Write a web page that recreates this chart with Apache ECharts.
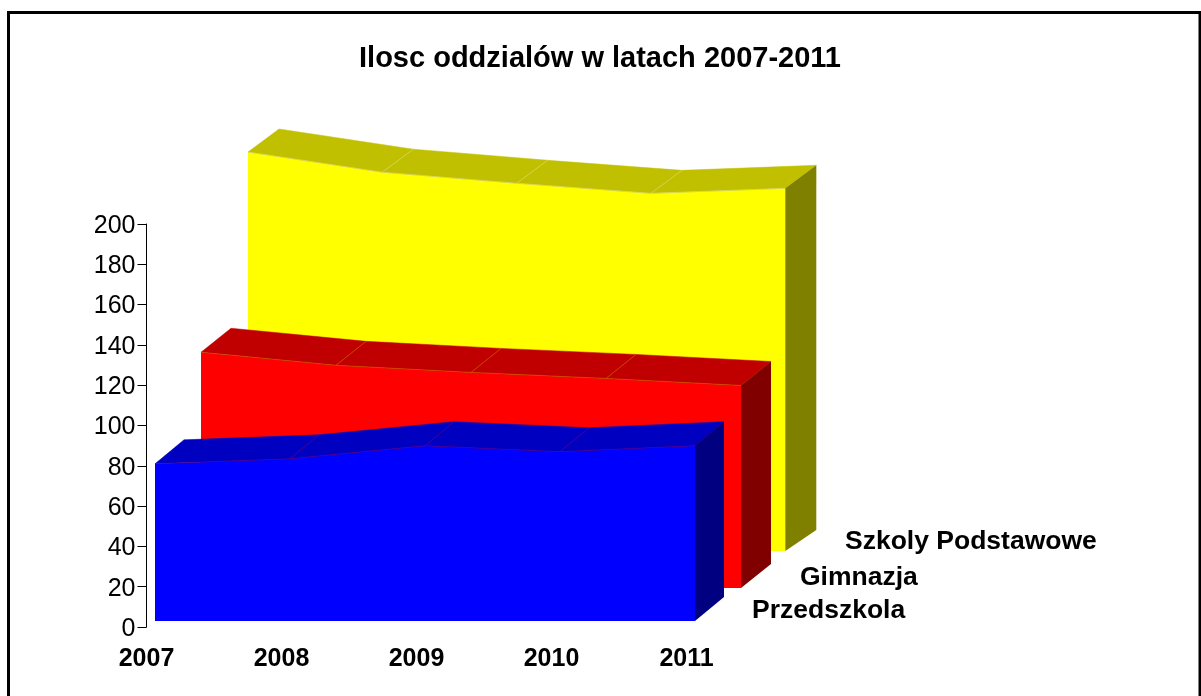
<!DOCTYPE html>
<html>
<head>
<meta charset="utf-8">
<style>
html, body { margin: 0; padding: 0; background: #fff; }
#chart { width: 1201px; height: 696px; }
</style>
<script src="https://cdn.jsdelivr.net/npm/echarts@6/dist/echarts.min.js"></script>
</head>
<body>
<div id="chart"></div>
<script>
var years = ['2007', '2008', '2009', '2010', '2011'];
var podstawowe = [198, 188, 182.5, 177.5, 180];
var gimnazja = [117, 110.5, 107, 104, 100.5];
var przedszkola = [78, 80.5, 87, 84, 87];

var FONT = '"Liberation Sans", Arial, sans-serif';

// faux 3d: every layer is shifted back from the axis, drawn back to front
function layer(name, values, look) {
    return {
        name: name,
        type: 'custom',
        coordinateSystem: 'cartesian2d',
        data: values.map(function (v, i) { return [i, v]; }),
        encode: { x: 0, y: 1 },
        silent: true,
        z: look.z,
        renderItem: function (params, api) {
            if (params.dataIndex !== 0) {
                return null;
            }
            var base = api.coord([0, 0]);
            var front = values.map(function (v, i) {
                var p = api.coord([i, v]);
                return [base[0] + (p[0] - base[0]) * look.sx + look.dx, p[1] + look.dy];
            });
            var last = front[front.length - 1];
            var baseY = base[1] + look.dy;
            var kids = [];

            // front wall
            kids.push({
                type: 'polygon',
                shape: { points: front.concat([[last[0], baseY], [front[0][0], baseY]]) },
                style: { fill: look.front }
            });
            // top strips plus the seams between them
            for (var i = 0; i < front.length - 1; i++) {
                var a = front[i], b = front[i + 1];
                kids.push({
                    type: 'polygon',
                    shape: { points: [a, b, [b[0] + look.bx, b[1] + look.by], [a[0] + look.bx, a[1] + look.by]] },
                    style: { fill: look.top, stroke: look.top, lineWidth: 0.5 }
                });
            }
            for (var j = 1; j < front.length - 1; j++) {
                kids.push({
                    type: 'line',
                    shape: { x1: front[j][0], y1: front[j][1], x2: front[j][0] + look.bx, y2: front[j][1] + look.by },
                    style: { stroke: look.seam, lineWidth: 0.6 }
                });
            }
            kids.push({
                type: 'polyline',
                shape: { points: front },
                style: { stroke: look.seam, lineWidth: 0.6, fill: 'none' }
            });
            // right side wall
            kids.push({
                type: 'polygon',
                shape: { points: [last, [last[0] + look.bx, last[1] + look.by], [last[0] + look.bx, baseY + look.footBy], [last[0], baseY]] },
                style: { fill: look.side }
            });
            // series name sits next to the foot of the layer
            kids.push({
                type: 'text',
                style: {
                    x: look.labelX,
                    y: look.labelY,
                    text: name,
                    fill: '#000',
                    font: 'bold 26.5px ' + FONT,
                    textAlign: 'left',
                    textVerticalAlign: 'middle'
                }
            });
            return { type: 'group', children: kids };
        }
    };
}

var chart = echarts.init(document.getElementById('chart'), null, { renderer: 'canvas' });
chart.setOption({
    animation: false,
    backgroundColor: '#fff',
    title: {
        text: 'Ilosc oddzialów w latach 2007-2011',
        left: 595,
        top: 39,
        textAlign: 'center',
        textStyle: { fontFamily: FONT, fontSize: 29, fontWeight: 'bold', color: '#000' }
    },
    graphic: [{
        type: 'rect',
        silent: true,
        shape: { x: 8.5, y: 12.5, width: 1191.5, height: 700 },
        style: { fill: 'none', stroke: '#000', lineWidth: 3 }
    }],
    grid: { left: 146.5, top: 224, width: 540, height: 403 },
    xAxis: {
        type: 'category',
        data: years,
        boundaryGap: false,
        axisLine: { show: false },
        axisTick: { show: false },
        axisLabel: { margin: 20, color: '#000', fontFamily: FONT, fontSize: 25, fontWeight: 'bold' }
    },
    yAxis: {
        type: 'value',
        min: 0,
        max: 200,
        interval: 20,
        splitLine: { show: false },
        axisLine: { show: true, lineStyle: { color: '#000', width: 1 } },
        axisTick: { show: true, length: 9, lineStyle: { color: '#000', width: 1 } },
        axisLabel: {
            margin: 11,
            color: '#000',
            formatter: '{v|{value}}',
            rich: { v: { fontFamily: FONT, fontSize: 25, color: '#000', padding: [4, 0, 0, 0] } }
        }
    },
    series: [
        layer('Szkoly Podstawowe', podstawowe, {
            z: 2, dx: 101.5, dy: -76, sx: 0.995, bx: 31, by: -23, footBy: -21,
            front: '#ffff00', top: '#c0c000', side: '#808000', seam: '#dcdc70',
            labelX: 845, labelY: 542
        }),
        layer('Gimnazja', gimnazja, {
            z: 3, dx: 54.5, dy: -39, sx: 1, bx: 30, by: -24, footBy: -24,
            front: '#ff0000', top: '#c00000', side: '#800000', seam: '#d06000',
            labelX: 800, labelY: 578
        }),
        layer('Przedszkola', przedszkola, {
            z: 4, dx: 8.5, dy: -6, sx: 1, bx: 29, by: -24, footBy: -24,
            front: '#0000ff', top: '#0000c0', side: '#000080', seam: '#600090',
            labelX: 752, labelY: 611
        })
    ]
});
</script>
</body>
</html>
